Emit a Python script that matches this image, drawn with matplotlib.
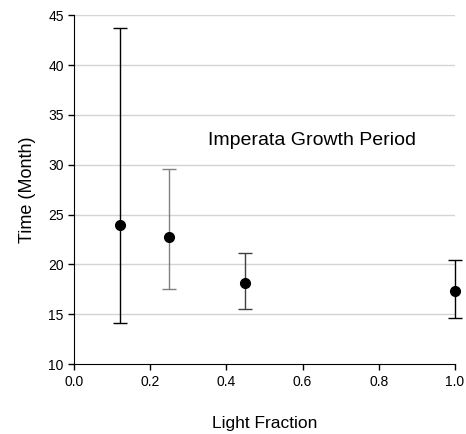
import matplotlib
matplotlib.use("Agg")
import matplotlib.pyplot as plt
import numpy as np

plt.rcParams['font.family'] = ['Liberation Sans', 'DejaVu Sans']

light = [0.12, 0.25, 0.45, 1.0]
time_mean = [24.0, 22.8, 18.1, 17.3]
time_low = [14.1, 17.5, 15.5, 14.6]
time_high = [43.7, 29.6, 21.1, 20.4]
bar_colors = ['black', '#808080', '#404040', 'black']
xticks = [0.0, 0.2, 0.4, 0.6, 0.8, 1.0]
yticks = [10, 15, 20, 25, 30, 35, 40, 45]

fig = plt.figure(figsize=(4.66, 4.34), dpi=100)
ax = fig.add_axes([0.159, 0.161, 0.817, 0.804])

for yv in yticks[1:]:
    ax.axhline(yv, color='#d4d4d4', lw=1, zorder=0)

for x, m, lo, hi, c in zip(light, time_mean, time_low, time_high, bar_colors):
    ax.errorbar([x], [m], yerr=[[m - lo], [hi - m]], fmt='none', ecolor=c,
                elinewidth=1, capsize=5, capthick=1, clip_on=False, zorder=2)
ax.plot(light, time_mean, 'o', color='black', ms=7, clip_on=False, zorder=3)

ax.set_xlim(0, 1.0)
ax.set_ylim(10, 45)
ax.set_xticks(xticks)
ax.set_xticklabels([f"{v:.1f}" for v in xticks])
ax.set_yticks(yticks)
ax.tick_params(direction='out', length=4, labelsize=10, width=1)
ax.spines['top'].set_visible(False)
ax.spines['right'].set_visible(False)
ax.set_xlabel('Light Fraction', fontsize=12.5, labelpad=20)
ax.set_ylabel('Time (Month)', fontsize=13, labelpad=9)
ax.text(0.625, 32.4, 'Imperata Growth Period', fontsize=14, ha='center', va='center')

fig.savefig('out.png', dpi=100)
